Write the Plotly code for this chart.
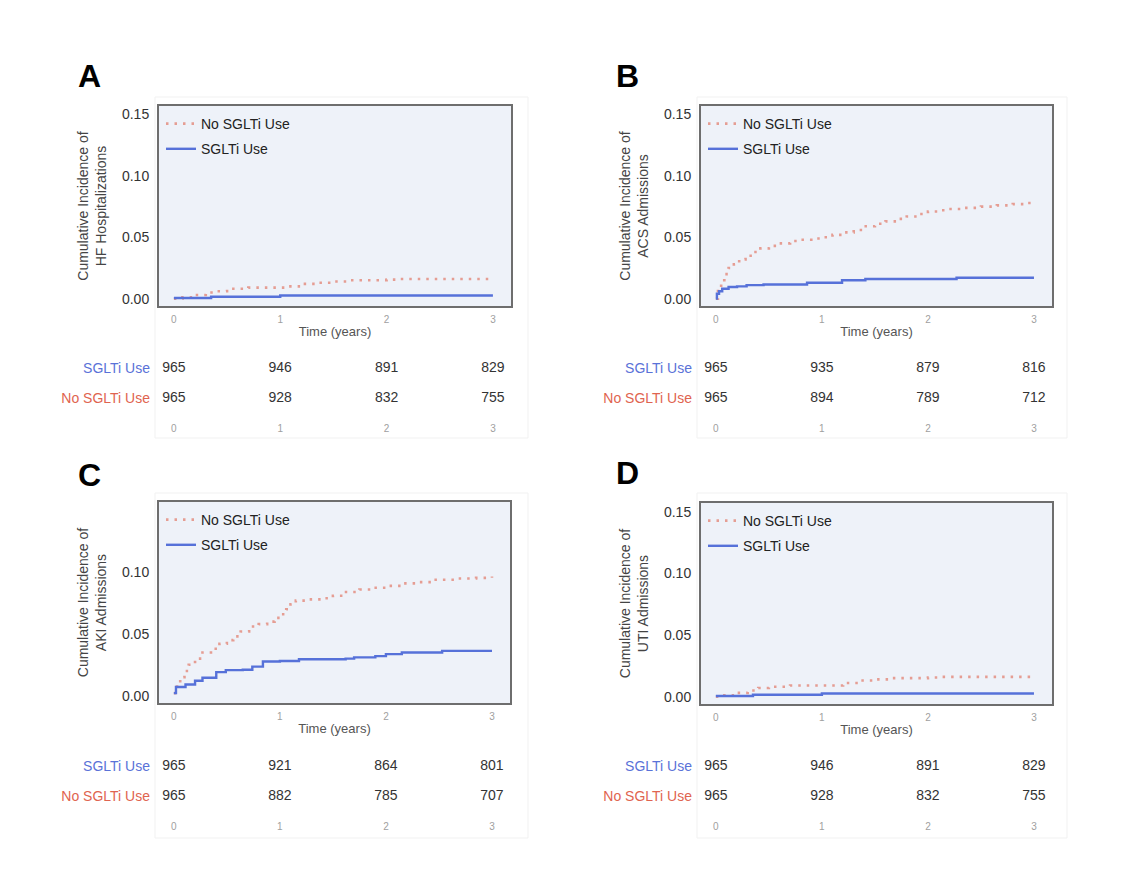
import plotly.graph_objects as go

# ---------------- data ----------------
times_ticks = [0, 1, 2, 3]

# Panel A: HF hospitalizations
a_no_t = [0, 0.08, 0.2, 0.3, 0.4, 0.5, 0.7, 1.05, 1.2, 1.35, 1.5, 1.65, 2.0, 2.1, 3.0]
a_no_v = [0, 0.001, 0.003, 0.005, 0.006, 0.008, 0.009, 0.010, 0.012, 0.013, 0.014, 0.015, 0.0155, 0.016, 0.016]
a_sg_t = [0, 0.35, 1.0, 3.0]
a_sg_v = [0.0005, 0.0015, 0.0025, 0.0025]

# Panel B: ACS admissions
b_no_t = [0, 0.02, 0.05, 0.08, 0.12, 0.17, 0.22, 0.28, 0.35, 0.42, 0.5, 0.6, 0.7, 0.8, 0.9, 1.0,
          1.1, 1.2, 1.3, 1.4, 1.5, 1.6, 1.7, 1.8, 1.9, 2.0, 2.1, 2.2, 2.35, 2.5, 2.65, 2.8, 2.9, 3.0]
b_no_v = [0.0, 0.008, 0.015, 0.020, 0.025, 0.028, 0.032, 0.035, 0.038, 0.041, 0.043, 0.045, 0.047, 0.048, 0.049, 0.050,
          0.052, 0.054, 0.056, 0.059, 0.061, 0.063, 0.065, 0.067, 0.069, 0.071, 0.072, 0.073, 0.074, 0.075, 0.076, 0.077, 0.078, 0.078]
b_sg_t = [0, 0.01, 0.03, 0.06, 0.12, 0.2, 0.29, 0.45, 0.86, 1.19, 1.41, 2.27, 3.0]
b_sg_v = [0.0, 0.004, 0.006, 0.008, 0.0095, 0.010, 0.011, 0.0115, 0.013, 0.015, 0.016, 0.017, 0.017]

# Panel C: AKI admissions
c_no_t = [0, 0.03, 0.06, 0.1, 0.14, 0.2, 0.27, 0.35, 0.43, 0.5, 0.56, 0.63, 0.71, 0.8, 0.88, 0.95, 1.01, 1.06,
          1.1, 1.15, 1.25, 1.4, 1.5, 1.6, 1.75, 1.87, 2.0, 2.15, 2.3, 2.45, 2.65, 2.85, 3.0]
c_no_v = [0.002, 0.010, 0.015, 0.020, 0.025, 0.030, 0.035, 0.038, 0.042, 0.045, 0.048, 0.052, 0.056, 0.058, 0.060, 0.063, 0.066, 0.070,
          0.074, 0.077, 0.078, 0.079, 0.081, 0.084, 0.086, 0.0875, 0.089, 0.091, 0.092, 0.094, 0.095, 0.0955, 0.0965]
c_sg_t = [0, 0.02, 0.11, 0.2, 0.27, 0.4, 0.49, 0.65, 0.74, 0.84, 1.0, 1.18, 1.62, 1.7, 1.9, 2.0, 2.15, 2.53, 3.0]
c_sg_v = [0.002, 0.007, 0.009, 0.012, 0.0145, 0.019, 0.0207, 0.021, 0.0235, 0.0276, 0.028, 0.0295, 0.030, 0.031, 0.032, 0.0336, 0.035, 0.0363, 0.0363]

# Panel D: UTI admissions
d_no_t = [0, 0.08, 0.2, 0.3, 0.4, 0.5, 0.7, 1.05, 1.2, 1.35, 1.5, 1.65, 2.0, 2.1, 3.0]
d_no_v = [0, 0.001, 0.003, 0.005, 0.007, 0.008, 0.009, 0.009, 0.011, 0.013, 0.014, 0.015, 0.0155, 0.016, 0.016]
d_sg_t = [0, 0.35, 1.0, 3.0]
d_sg_v = [0.0005, 0.0015, 0.0025, 0.0025]

# Numbers at risk
a_risk_sg = [965, 946, 891, 829]
a_risk_no = [965, 928, 832, 755]
b_risk_sg = [965, 935, 879, 816]
b_risk_no = [965, 894, 789, 712]
c_risk_sg = [965, 921, 864, 801]
c_risk_no = [965, 882, 785, 707]
d_risk_sg = [965, 946, 891, 829]
d_risk_no = [965, 928, 832, 755]

panel_letters = ["A", "B", "C", "D"]
y_titles = [
    "Cumulative Incidence of<br>HF Hospitalizations",
    "Cumulative Incidence of<br>ACS Admissions",
    "Cumulative Incidence of<br>AKI Admissions",
    "Cumulative Incidence of<br>UTI Admissions",
]
series_names = ["No SGLTi Use", "SGLTi Use"]

# ---------------- style ----------------
OFF = 8                 # page body margin
W, H = 1144 - 2 * OFF, 894 - 2 * OFF
FONT = "Liberation Sans, Arial, Helvetica, sans-serif"
BLUE = "#5671d9"
SALMON = "#e59d93"
LBL_BLUE = "#5a72d8"
LBL_RED = "#df6450"
PLOT_BG = "#eef2f9"

def fx(p):
    return (p - OFF) / W

def fy(p):
    return 1 - (p - OFF) / H

# pixel boxes in screenshot coordinates
plot_boxes = [
    (159, 511, 106, 306),
    (701, 1052, 106, 306),
    (159, 510, 502, 703),
    (701, 1052, 503, 704),
]
table_boxes = [(354, 417), (354, 417), (752, 815), (752, 815)]
letter_pos = [(89, 76), (627, 76), (89, 475), (627, 473)]
frame_boxes = [(155, 528, 97, 438), (697, 1067, 97, 438), (155, 528, 493, 838), (697, 1067, 493, 838)]

curves = [
    (a_no_t, a_no_v, a_sg_t, a_sg_v),
    (b_no_t, b_no_v, b_sg_t, b_sg_v),
    (c_no_t, c_no_v, c_sg_t, c_sg_v),
    (d_no_t, d_no_v, d_sg_t, d_sg_v),
]
risks = [
    (a_risk_sg, a_risk_no),
    (b_risk_sg, b_risk_no),
    (c_risk_sg, c_risk_no),
    (d_risk_sg, d_risk_no),
]

fig = go.Figure()
layout = dict(
    width=W, height=H,
    margin=dict(l=0, r=0, t=0, b=0),
    paper_bgcolor="white",
    plot_bgcolor="white",
    font=dict(family=FONT, color="#333"),
    showlegend=True,
)
shapes = []
annotations = []

XR = [-0.14, 3.17]
YR = [-0.006, 0.157]

for i in range(4):
    pn = i + 1
    tn = i + 5
    xa = "x" if pn == 1 else f"x{pn}"
    ya = "y" if pn == 1 else f"y{pn}"
    xt = f"x{tn}"
    yt = f"y{tn}"
    leg = "legend" if pn == 1 else f"legend{pn}"
    l, r, t, b = plot_boxes[i]
    no_t, no_v, sg_t, sg_v = curves[i]

    fig.add_trace(go.Scatter(
        x=no_t, y=no_v, mode="lines", line=dict(color=SALMON, width=2.6, dash="2.5px,6px", shape="hv"),
        name=series_names[0], xaxis=xa, yaxis=ya, legend=leg, legendgroup=f"no{pn}",
    ))
    fig.add_trace(go.Scatter(
        x=sg_t, y=sg_v, mode="lines", line=dict(color=BLUE, width=2.4, shape="hv"),
        name=series_names[1], xaxis=xa, yaxis=ya, legend=leg, legendgroup=f"sg{pn}",
    ))

    ytickvals = [0, 0.05, 0.10] if i == 2 else [0, 0.05, 0.10, 0.15]
    layout["xaxis" if pn == 1 else f"xaxis{pn}"] = dict(
        domain=[fx(l), fx(r)], anchor=ya, range=XR,
        tickvals=times_ticks, ticks="", ticklabelstandoff=3,
        tickfont=dict(size=10, color="#a0a0a0"),
        showgrid=False, zeroline=False,
        showline=True, mirror=True, linecolor="#6e6e6e", linewidth=2,
        title=dict(text="Time (years)", font=dict(size=13, color="#555"), standoff=3),
    )
    layout["yaxis" if pn == 1 else f"yaxis{pn}"] = dict(
        domain=[fy(b), fy(t)], anchor=xa, range=YR,
        tickvals=ytickvals, tickformat=".2f", ticks="", ticklabelstandoff=5,
        tickfont=dict(size=14, color="#333"),
        showgrid=False, zeroline=False,
        showline=True, mirror=True, linecolor="#6e6e6e", linewidth=2,
        title=dict(text=y_titles[i], font=dict(size=14, color="#444"), standoff=12),
    )
    shapes.append(dict(type="rect", xref=f"{xa} domain", yref=f"{ya} domain",
                       x0=0, x1=1, y0=0, y1=1, fillcolor=PLOT_BG, line=dict(width=0), layer="below"))
    fl, fr, ft, fb = frame_boxes[i]
    shapes.append(dict(type="rect", xref="paper", yref="paper",
                       x0=fx(fl), x1=fx(fr), y0=fy(fb), y1=fy(ft),
                       line=dict(color="#f1f1f1", width=1), layer="below"))

    layout[leg] = dict(
        x=fx(l + 2), y=fy(t + 2), xanchor="left", yanchor="top",
        bgcolor="rgba(0,0,0,0)", font=dict(size=14, color="#222"),
        traceorder="grouped", tracegroupgap=4, itemwidth=30,
    )

    # risk table
    tt, tb = table_boxes[i]
    sg_r, no_r = risks[i]
    fig.add_trace(go.Scatter(
        x=times_ticks, y=[1] * 4, mode="text", text=[str(v) for v in sg_r],
        textfont=dict(size=14, color="#333"), textposition="middle center",
        xaxis=xt, yaxis=yt, showlegend=False, hoverinfo="skip",
    ))
    fig.add_trace(go.Scatter(
        x=times_ticks, y=[0] * 4, mode="text", text=[str(v) for v in no_r],
        textfont=dict(size=14, color="#333"), textposition="middle center",
        xaxis=xt, yaxis=yt, showlegend=False, hoverinfo="skip",
    ))
    layout[f"xaxis{tn}"] = dict(
        domain=[fx(l), fx(r)], anchor=yt, range=XR,
        tickvals=times_ticks, ticks="", ticklabelstandoff=4,
        tickfont=dict(size=10, color="#a0a0a0"),
        showgrid=False, zeroline=False, showline=False,
    )
    layout[f"yaxis{tn}"] = dict(
        domain=[fy(tb), fy(tt)], anchor=xt, range=[-0.633, 1.467],
        tickvals=[1, 0],
        ticktext=[f'<span style="color:{LBL_BLUE}">{series_names[1]}</span>',
                  f'<span style="color:{LBL_RED}">{series_names[0]}</span>'],
        ticks="", ticklabelstandoff=8, tickfont=dict(size=14),
        showgrid=False, zeroline=False, showline=False,
    )

    lx, ly = letter_pos[i]
    annotations.append(dict(
        text=f"<b>{panel_letters[i]}</b>", x=fx(lx), y=fy(ly), xref="paper", yref="paper",
        showarrow=False, font=dict(size=32, color="#000", family=FONT),
        xanchor="center", yanchor="middle",
    ))

layout["shapes"] = shapes
layout["annotations"] = annotations
fig.update_layout(**layout)

fig.write_html("out.html")
